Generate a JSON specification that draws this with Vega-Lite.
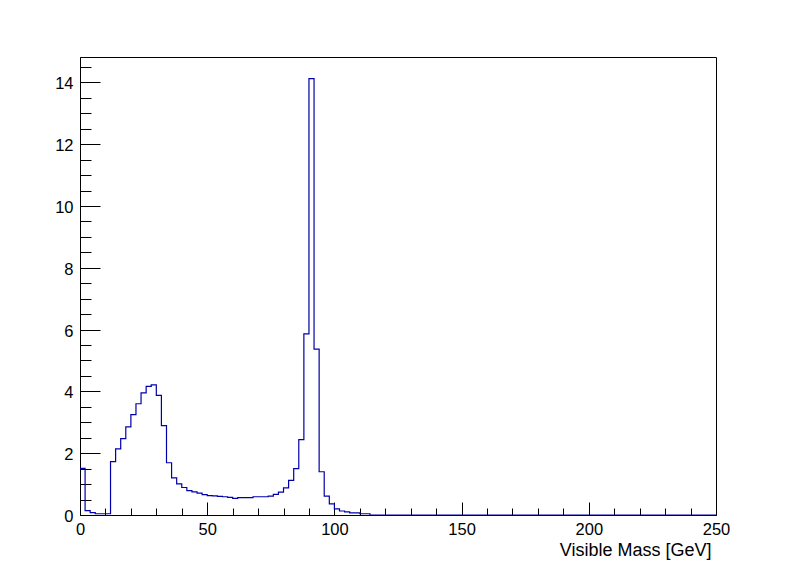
{
  "$schema": "https://vega.github.io/schema/vega-lite/v6.json",
  "width": 636,
  "height": 458,
  "autosize": "none",
  "padding": {"left": 80, "top": 57, "right": 80, "bottom": 57},
  "background": "white",
  "config": {
    "font": "Liberation Sans",
    "view": {"stroke": "black", "strokeWidth": 1},
    "axis": {
      "domainColor": "black",
      "tickColor": "black",
      "tickWidth": 1,
      "labelColor": "black",
      "labelFont": "Liberation Sans",
      "labelFontSize": 16.5,
      "titleFont": "Liberation Sans",
      "titleColor": "black",
      "titleFontWeight": "normal",
      "grid": false,
      "zindex": 1
    }
  },
  "data": {
    "values": [
      {"m": 0, "n": 1.51},
      {"m": 2, "n": 0.14},
      {"m": 4, "n": 0.08},
      {"m": 6, "n": 0.04},
      {"m": 8, "n": 0.04},
      {"m": 10, "n": 0.04},
      {"m": 12, "n": 1.73},
      {"m": 14, "n": 2.14},
      {"m": 16, "n": 2.47},
      {"m": 18, "n": 2.85},
      {"m": 20, "n": 3.25},
      {"m": 22, "n": 3.6},
      {"m": 24, "n": 3.95},
      {"m": 26, "n": 4.16},
      {"m": 28, "n": 4.21},
      {"m": 30, "n": 3.87},
      {"m": 32, "n": 2.89},
      {"m": 34, "n": 1.69},
      {"m": 36, "n": 1.2},
      {"m": 38, "n": 1.01},
      {"m": 40, "n": 0.89},
      {"m": 42, "n": 0.79},
      {"m": 44, "n": 0.75},
      {"m": 46, "n": 0.71},
      {"m": 48, "n": 0.66},
      {"m": 50, "n": 0.63},
      {"m": 52, "n": 0.62},
      {"m": 54, "n": 0.6},
      {"m": 56, "n": 0.59},
      {"m": 58, "n": 0.57},
      {"m": 60, "n": 0.54},
      {"m": 62, "n": 0.56},
      {"m": 64, "n": 0.56},
      {"m": 66, "n": 0.56},
      {"m": 68, "n": 0.59},
      {"m": 70, "n": 0.59},
      {"m": 72, "n": 0.59},
      {"m": 74, "n": 0.61},
      {"m": 76, "n": 0.67},
      {"m": 78, "n": 0.74},
      {"m": 80, "n": 0.88},
      {"m": 82, "n": 1.12},
      {"m": 84, "n": 1.5},
      {"m": 86, "n": 2.44},
      {"m": 88, "n": 5.86},
      {"m": 90, "n": 14.12},
      {"m": 92, "n": 5.37},
      {"m": 94, "n": 1.4},
      {"m": 96, "n": 0.61},
      {"m": 98, "n": 0.36},
      {"m": 100, "n": 0.2},
      {"m": 102, "n": 0.13},
      {"m": 104, "n": 0.1},
      {"m": 106, "n": 0.07},
      {"m": 108, "n": 0.07},
      {"m": 110, "n": 0.04},
      {"m": 112, "n": 0.04},
      {"m": 114, "n": 0},
      {"m": 116, "n": 0},
      {"m": 118, "n": 0},
      {"m": 120, "n": 0},
      {"m": 122, "n": 0},
      {"m": 124, "n": 0},
      {"m": 126, "n": 0},
      {"m": 128, "n": 0},
      {"m": 130, "n": 0},
      {"m": 132, "n": 0},
      {"m": 134, "n": 0},
      {"m": 136, "n": 0},
      {"m": 138, "n": 0},
      {"m": 140, "n": 0},
      {"m": 142, "n": 0},
      {"m": 144, "n": 0},
      {"m": 146, "n": 0},
      {"m": 148, "n": 0},
      {"m": 150, "n": 0},
      {"m": 152, "n": 0},
      {"m": 154, "n": 0},
      {"m": 156, "n": 0},
      {"m": 158, "n": 0},
      {"m": 160, "n": 0},
      {"m": 162, "n": 0},
      {"m": 164, "n": 0},
      {"m": 166, "n": 0},
      {"m": 168, "n": 0},
      {"m": 170, "n": 0},
      {"m": 172, "n": 0},
      {"m": 174, "n": 0},
      {"m": 176, "n": 0},
      {"m": 178, "n": 0},
      {"m": 180, "n": 0},
      {"m": 182, "n": 0},
      {"m": 184, "n": 0},
      {"m": 186, "n": 0},
      {"m": 188, "n": 0},
      {"m": 190, "n": 0},
      {"m": 192, "n": 0},
      {"m": 194, "n": 0},
      {"m": 196, "n": 0},
      {"m": 198, "n": 0},
      {"m": 200, "n": 0},
      {"m": 202, "n": 0},
      {"m": 204, "n": 0},
      {"m": 206, "n": 0},
      {"m": 208, "n": 0},
      {"m": 210, "n": 0},
      {"m": 212, "n": 0},
      {"m": 214, "n": 0},
      {"m": 216, "n": 0},
      {"m": 218, "n": 0},
      {"m": 220, "n": 0},
      {"m": 222, "n": 0},
      {"m": 224, "n": 0},
      {"m": 226, "n": 0},
      {"m": 228, "n": 0},
      {"m": 230, "n": 0},
      {"m": 232, "n": 0},
      {"m": 234, "n": 0},
      {"m": 236, "n": 0},
      {"m": 238, "n": 0},
      {"m": 240, "n": 0},
      {"m": 242, "n": 0},
      {"m": 244, "n": 0},
      {"m": 246, "n": 0},
      {"m": 248, "n": 0},
      {"m": 250, "n": 0}
    ]
  },
  "mark": {
    "type": "line",
    "interpolate": "step-after",
    "color": "#0000aa",
    "strokeWidth": 1.2
  },
  "encoding": {
    "x": {
      "field": "m",
      "type": "quantitative",
      "scale": {"domain": [0, 250], "nice": false, "zero": false},
      "axis": {
        "values": [0, 10, 20, 30, 40, 50, 60, 70, 80, 90, 100, 110, 120, 130, 140, 150, 160, 170, 180, 190, 200, 210, 220, 230, 240, 250],
        "labelExpr": "datum.value % 50 === 0 ? format(datum.value, 'd') : ''",
        "tickSize": {"condition": {"test": "datum.value % 50 === 0", "value": -13}, "value": -7},
        "labelPadding": 19,
        "labelFlush": false,
        "labelOverlap": false,
        "title": "Visible Mass [GeV]",
        "titleFontSize": 18,
        "titleAlign": "right",
        "titleAnchor": "end",
        "titleBaseline": "alphabetic",
        "titleX": 631,
        "titleY": 40
      }
    },
    "y": {
      "field": "n",
      "type": "quantitative",
      "scale": {"domain": [0, 14.82], "nice": false},
      "axis": {
        "values": [0, 0.5, 1, 1.5, 2, 2.5, 3, 3.5, 4, 4.5, 5, 5.5, 6, 6.5, 7, 7.5, 8, 8.5, 9, 9.5, 10, 10.5, 11, 11.5, 12, 12.5, 13, 13.5, 14, 14.5],
        "labelExpr": "datum.value % 2 === 0 ? format(datum.value, 'd') : ''",
        "tickSize": {"condition": {"test": "datum.value % 2 === 0", "value": -20}, "value": -11},
        "labelPadding": 27,
        "labelOffset": 1.5,
        "labelFlush": false,
        "labelOverlap": false,
        "title": null
      }
    }
  }
}
